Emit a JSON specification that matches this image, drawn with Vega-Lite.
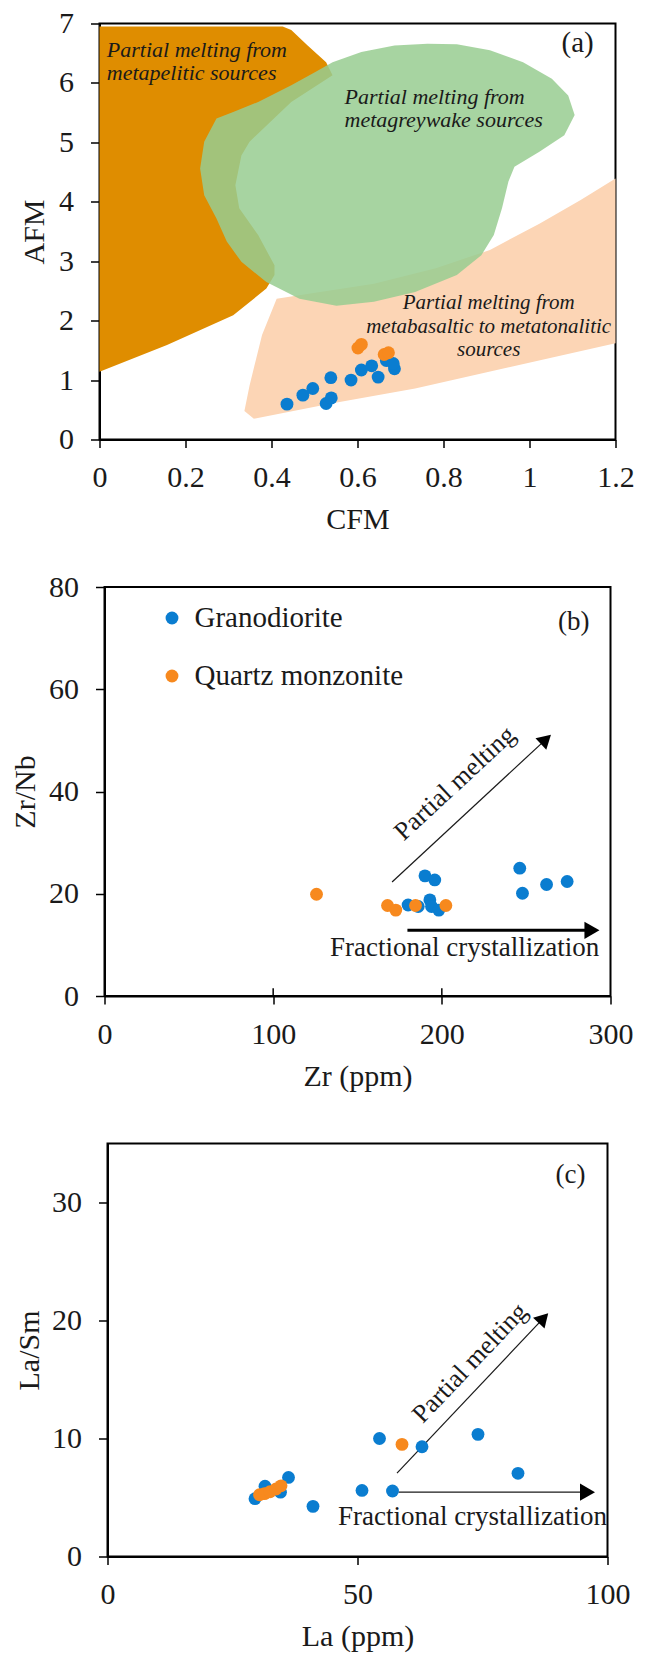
{
  "$schema": "https://vega.github.io/schema/vega-lite/v6.json",
  "background": "white",
  "padding": {"left": 8.5, "top": 7.5, "right": 0, "bottom": 0},
  "config": {
    "font": "Liberation Serif",
    "view": {"stroke": "#000000", "strokeWidth": 2},
    "axis": {
      "grid": false,
      "domainColor": "#000000",
      "domainWidth": 2,
      "tickColor": "#000000",
      "tickWidth": 1.5,
      "labelFont": "Liberation Serif",
      "labelFontSize": 30,
      "labelColor": "#1a1a1a",
      "titleFont": "Liberation Serif",
      "titleFontSize": 30,
      "titleFontWeight": "normal",
      "titleColor": "#1a1a1a"
    },
    "axisX": {"tickSize": 8, "labelPadding": 15, "labelFlush": false, "labelOverlap": false, "titleBaseline": "alphabetic"},
    "axisY": {"tickSize": 9, "labelPadding": 17, "labelOverlap": false, "titleAngle": 270, "titleBaseline": "alphabetic"}
  },
  "datasets": {
    "polys": [
      {"poly": "pelitic", "i": 0, "x": 0, "y": 6.95},
      {"poly": "pelitic", "i": 1, "x": 0.426, "y": 6.95},
      {"poly": "pelitic", "i": 2, "x": 0.446, "y": 6.89},
      {"poly": "pelitic", "i": 3, "x": 0.484, "y": 6.63},
      {"poly": "pelitic", "i": 4, "x": 0.527, "y": 6.35},
      {"poly": "pelitic", "i": 5, "x": 0.542, "y": 6.13},
      {"poly": "pelitic", "i": 6, "x": 0.446, "y": 5.68},
      {"poly": "pelitic", "i": 7, "x": 0.349, "y": 5.01},
      {"poly": "pelitic", "i": 8, "x": 0.33, "y": 4.78},
      {"poly": "pelitic", "i": 9, "x": 0.316, "y": 4.28},
      {"poly": "pelitic", "i": 10, "x": 0.325, "y": 3.89},
      {"poly": "pelitic", "i": 11, "x": 0.369, "y": 3.44},
      {"poly": "pelitic", "i": 12, "x": 0.407, "y": 2.93},
      {"poly": "pelitic", "i": 13, "x": 0.407, "y": 2.77},
      {"poly": "pelitic", "i": 14, "x": 0.388, "y": 2.54},
      {"poly": "pelitic", "i": 15, "x": 0.311, "y": 2.09},
      {"poly": "pelitic", "i": 16, "x": 0.157, "y": 1.59},
      {"poly": "pelitic", "i": 17, "x": 0, "y": 1.14},
      {"poly": "basaltic", "i": 0, "x": 0.412, "y": 2.37},
      {"poly": "basaltic", "i": 1, "x": 0.494, "y": 2.46},
      {"poly": "basaltic", "i": 2, "x": 0.638, "y": 2.62},
      {"poly": "basaltic", "i": 3, "x": 0.782, "y": 2.88},
      {"poly": "basaltic", "i": 4, "x": 0.908, "y": 3.19},
      {"poly": "basaltic", "i": 5, "x": 1.023, "y": 3.63},
      {"poly": "basaltic", "i": 6, "x": 1.119, "y": 4.03},
      {"poly": "basaltic", "i": 7, "x": 1.2, "y": 4.39},
      {"poly": "basaltic", "i": 8, "x": 1.2, "y": 1.62},
      {"poly": "basaltic", "i": 9, "x": 0.734, "y": 0.86},
      {"poly": "basaltic", "i": 10, "x": 0.542, "y": 0.61},
      {"poly": "basaltic", "i": 11, "x": 0.359, "y": 0.35},
      {"poly": "basaltic", "i": 12, "x": 0.337, "y": 0.48},
      {"poly": "basaltic", "i": 13, "x": 0.349, "y": 0.91},
      {"poly": "basaltic", "i": 14, "x": 0.378, "y": 1.76},
      {"poly": "greywacke", "i": 0, "x": 0.272, "y": 5.4},
      {"poly": "greywacke", "i": 1, "x": 0.2435, "y": 5.01},
      {"poly": "greywacke", "i": 2, "x": 0.234, "y": 4.56},
      {"poly": "greywacke", "i": 3, "x": 0.2435, "y": 4.11},
      {"poly": "greywacke", "i": 4, "x": 0.272, "y": 3.72},
      {"poly": "greywacke", "i": 5, "x": 0.296, "y": 3.33},
      {"poly": "greywacke", "i": 6, "x": 0.33, "y": 2.99},
      {"poly": "greywacke", "i": 7, "x": 0.388, "y": 2.65},
      {"poly": "greywacke", "i": 8, "x": 0.465, "y": 2.37},
      {"poly": "greywacke", "i": 9, "x": 0.551, "y": 2.25},
      {"poly": "greywacke", "i": 10, "x": 0.638, "y": 2.32},
      {"poly": "greywacke", "i": 11, "x": 0.734, "y": 2.48},
      {"poly": "greywacke", "i": 12, "x": 0.831, "y": 2.77},
      {"poly": "greywacke", "i": 13, "x": 0.888, "y": 3.1},
      {"poly": "greywacke", "i": 14, "x": 0.917, "y": 3.44},
      {"poly": "greywacke", "i": 15, "x": 0.936, "y": 3.89},
      {"poly": "greywacke", "i": 16, "x": 0.951, "y": 4.34},
      {"poly": "greywacke", "i": 17, "x": 0.965, "y": 4.59},
      {"poly": "greywacke", "i": 18, "x": 1.023, "y": 4.84},
      {"poly": "greywacke", "i": 19, "x": 1.081, "y": 5.12},
      {"poly": "greywacke", "i": 20, "x": 1.105, "y": 5.46},
      {"poly": "greywacke", "i": 21, "x": 1.09, "y": 5.79},
      {"poly": "greywacke", "i": 22, "x": 1.052, "y": 6.07},
      {"poly": "greywacke", "i": 23, "x": 0.985, "y": 6.35},
      {"poly": "greywacke", "i": 24, "x": 0.908, "y": 6.55},
      {"poly": "greywacke", "i": 25, "x": 0.831, "y": 6.65},
      {"poly": "greywacke", "i": 26, "x": 0.763, "y": 6.66},
      {"poly": "greywacke", "i": 27, "x": 0.686, "y": 6.63},
      {"poly": "greywacke", "i": 28, "x": 0.609, "y": 6.52},
      {"poly": "greywacke", "i": 29, "x": 0.542, "y": 6.35},
      {"poly": "greywacke", "i": 30, "x": 0.503, "y": 6.19},
      {"poly": "greywacke", "i": 31, "x": 0.446, "y": 5.96},
      {"poly": "greywacke", "i": 32, "x": 0.369, "y": 5.68},
      {"poly": "greywacke", "i": 33, "x": 0.311, "y": 5.51}
    ],
    "pts": [
      {"panel": "a", "type": "Granodiorite", "x": 0.436, "y": 0.595},
      {"panel": "a", "type": "Granodiorite", "x": 0.473, "y": 0.746},
      {"panel": "a", "type": "Granodiorite", "x": 0.496, "y": 0.858},
      {"panel": "a", "type": "Granodiorite", "x": 0.538, "y": 1.04},
      {"panel": "a", "type": "Granodiorite", "x": 0.527, "y": 0.606},
      {"panel": "a", "type": "Granodiorite", "x": 0.539, "y": 0.7},
      {"panel": "a", "type": "Granodiorite", "x": 0.585, "y": 1.0},
      {"panel": "a", "type": "Granodiorite", "x": 0.609, "y": 1.17},
      {"panel": "a", "type": "Granodiorite", "x": 0.633, "y": 1.24},
      {"panel": "a", "type": "Granodiorite", "x": 0.648, "y": 1.05},
      {"panel": "a", "type": "Granodiorite", "x": 0.667, "y": 1.33},
      {"panel": "a", "type": "Granodiorite", "x": 0.686, "y": 1.19},
      {"panel": "a", "type": "Granodiorite", "x": 0.683, "y": 1.28},
      {"panel": "a", "type": "Quartz monzonite", "x": 0.601, "y": 1.54},
      {"panel": "a", "type": "Quartz monzonite", "x": 0.609, "y": 1.6},
      {"panel": "a", "type": "Quartz monzonite", "x": 0.662, "y": 1.43},
      {"panel": "a", "type": "Quartz monzonite", "x": 0.672, "y": 1.46},
      {"panel": "b", "type": "Granodiorite", "x": 190, "y": 23.5},
      {"panel": "b", "type": "Granodiorite", "x": 195.8, "y": 22.7},
      {"panel": "b", "type": "Granodiorite", "x": 246.2, "y": 25},
      {"panel": "b", "type": "Granodiorite", "x": 247.8, "y": 20.1},
      {"panel": "b", "type": "Granodiorite", "x": 262.1, "y": 21.8},
      {"panel": "b", "type": "Granodiorite", "x": 274.3, "y": 22.4},
      {"panel": "b", "type": "Granodiorite", "x": 180, "y": 17.8},
      {"panel": "b", "type": "Granodiorite", "x": 186, "y": 17.5},
      {"panel": "b", "type": "Granodiorite", "x": 192.9, "y": 18.8},
      {"panel": "b", "type": "Granodiorite", "x": 193.9, "y": 17.5},
      {"panel": "b", "type": "Granodiorite", "x": 198.2, "y": 16.8},
      {"panel": "b", "type": "Quartz monzonite", "x": 125.7, "y": 19.9},
      {"panel": "b", "type": "Quartz monzonite", "x": 167.8, "y": 17.7},
      {"panel": "b", "type": "Quartz monzonite", "x": 172.7, "y": 16.8},
      {"panel": "b", "type": "Quartz monzonite", "x": 184.4, "y": 17.7},
      {"panel": "b", "type": "Quartz monzonite", "x": 202.4, "y": 17.7},
      {"panel": "c", "type": "Granodiorite", "x": 29.5, "y": 4.9},
      {"panel": "c", "type": "Granodiorite", "x": 31.5, "y": 5.95},
      {"panel": "c", "type": "Granodiorite", "x": 34.6, "y": 5.45},
      {"panel": "c", "type": "Granodiorite", "x": 36.2, "y": 6.7},
      {"panel": "c", "type": "Granodiorite", "x": 41.1, "y": 4.25},
      {"panel": "c", "type": "Granodiorite", "x": 50.9, "y": 5.6},
      {"panel": "c", "type": "Granodiorite", "x": 57.0, "y": 5.55},
      {"panel": "c", "type": "Granodiorite", "x": 54.4, "y": 10.0},
      {"panel": "c", "type": "Granodiorite", "x": 62.9, "y": 9.3},
      {"panel": "c", "type": "Granodiorite", "x": 74.1, "y": 10.35},
      {"panel": "c", "type": "Granodiorite", "x": 82.1, "y": 7.05},
      {"panel": "c", "type": "Quartz monzonite", "x": 30.4, "y": 5.23},
      {"panel": "c", "type": "Quartz monzonite", "x": 31.4, "y": 5.33},
      {"panel": "c", "type": "Quartz monzonite", "x": 32.5, "y": 5.49},
      {"panel": "c", "type": "Quartz monzonite", "x": 33.7, "y": 5.72},
      {"panel": "c", "type": "Quartz monzonite", "x": 34.7, "y": 5.99},
      {"panel": "c", "type": "Quartz monzonite", "x": 58.9, "y": 9.5}
    ]
  },
  "bounds": "flush",
  "center": true,
  "spacing": 147.5,
  "resolve": {"scale": {"color": "independent"}, "legend": {"color": "independent"}},
  "vconcat": [
    {
      "width": 516,
      "height": 416,
      "encoding": {
        "x": {"field": "x", "type": "quantitative", "scale": {"domain": [0, 1.2], "nice": false, "zero": false},
              "axis": {"values": [0, 0.2, 0.4, 0.6, 0.8, 1, 1.2], "format": "~f", "title": "CFM", "titleY": 89}},
        "y": {"field": "y", "type": "quantitative", "scale": {"domain": [0, 7], "nice": false},
              "axis": {"values": [0, 1, 2, 3, 4, 5, 6, 7], "title": "AFM", "titleX": -56, "titleY": 208}}
      },
      "layer": [
        {"data": {"name": "polys"}, "transform": [{"filter": "datum.poly === 'pelitic'"}],
         "mark": {"type": "line", "fill": "#df8d00", "strokeOpacity": 0},
         "encoding": {"order": {"field": "i", "type": "quantitative"}}},
        {"data": {"name": "polys"}, "transform": [{"filter": "datum.poly === 'basaltic'"}],
         "mark": {"type": "line", "fill": "#fcd5b5", "strokeOpacity": 0},
         "encoding": {"order": {"field": "i", "type": "quantitative"}}},
        {"data": {"name": "polys"}, "transform": [{"filter": "datum.poly === 'greywacke'"}],
         "mark": {"type": "line", "fill": "#98cd90", "fillOpacity": 0.85, "strokeOpacity": 0},
         "encoding": {"order": {"field": "i", "type": "quantitative"}}},
        {"data": {"name": "pts"}, "transform": [{"filter": "datum.panel === 'a'"}],
         "mark": {"type": "circle", "size": 165, "opacity": 1},
         "encoding": {"color": {"field": "type", "type": "nominal",
           "scale": {"domain": ["Granodiorite", "Quartz monzonite"], "range": ["#0a7dd0", "#f7891e"]}, "legend": null}}},
        {"data": {"values": [
           {"x": 0.017, "y": 6.56, "text": "Partial melting from"},
           {"x": 0.017, "y": 6.16, "text": "metapelitic sources"},
           {"x": 0.57, "y": 5.77, "text": "Partial melting from"},
           {"x": 0.57, "y": 5.37, "text": "metagreywake sources"}]},
         "mark": {"type": "text", "font": "Liberation Serif", "fontSize": 22, "fontStyle": "italic", "align": "left", "baseline": "middle", "color": "#1a1a1a"},
         "encoding": {"text": {"field": "text"}}},
        {"data": {"values": [
           {"x": 0.905, "y": 2.29, "text": "Partial melting from"},
           {"x": 0.905, "y": 1.9, "text": "metabasaltic to metatonalitic"},
           {"x": 0.905, "y": 1.5, "text": "sources"}]},
         "mark": {"type": "text", "font": "Liberation Serif", "fontSize": 21, "fontStyle": "italic", "align": "center", "baseline": "middle", "color": "#1a1a1a"},
         "encoding": {"text": {"field": "text"}}},
        {"data": {"values": [{"x": 1.112, "y": 6.68, "text": "(a)"}]},
         "mark": {"type": "text", "font": "Liberation Serif", "fontSize": 29, "align": "center", "baseline": "middle", "color": "#1a1a1a"},
         "encoding": {"text": {"field": "text"}}}
      ]
    },
    {
      "width": 506,
      "height": 409,
      "encoding": {
        "x": {"field": "x", "type": "quantitative", "scale": {"domain": [0, 300], "nice": false},
              "axis": {"values": [0, 100, 200, 300], "title": "Zr (ppm)", "titleY": 89}},
        "y": {"field": "y", "type": "quantitative", "scale": {"domain": [0, 80], "nice": false},
              "axis": {"values": [0, 20, 40, 60, 80], "title": "Zr/Nb", "titleX": -70.5, "titleY": 204.5}}
      },
      "layer": [
        {"data": {"values": [{"x": 100, "y": 0, "y2": 1.5}, {"x": 200, "y": 0, "y2": 1.5}]},
         "mark": {"type": "rule", "color": "#000000", "strokeWidth": 1.5},
         "encoding": {"y2": {"field": "y2"}}},
        {"data": {"values": [{"x": 179.6, "y": 12.85, "x2": 289, "y2": 12.85}]},
         "mark": {"type": "rule", "color": "#000000", "strokeWidth": 3},
         "encoding": {"x2": {"field": "x2"}, "y2": {"field": "y2"}}},
        {"data": {"values": [{"x": 170.5, "y": 22.3, "x2": 261.7, "y2": 50.2}]},
         "mark": {"type": "rule", "color": "#1a1a1a", "strokeWidth": 1.2},
         "encoding": {"x2": {"field": "x2"}, "y2": {"field": "y2"}}},
        {"data": {"values": [{"x": 289, "y": 12.85}]},
         "mark": {"type": "point", "shape": "triangle-right", "size": 300, "filled": true, "color": "#000000", "opacity": 1},
         "encoding": {}},
        {"data": {"values": [{"x": 261.7, "y": 50.2}]},
         "mark": {"type": "point", "shape": "triangle-up", "angle": 47.2, "size": 250, "filled": true, "color": "#000000", "opacity": 1},
         "encoding": {}},
        {"data": {"name": "pts"}, "transform": [{"filter": "datum.panel === 'b'"}],
         "mark": {"type": "circle", "size": 165, "opacity": 1},
         "encoding": {"color": {"field": "type", "type": "nominal",
           "scale": {"domain": ["Granodiorite", "Quartz monzonite"], "range": ["#0a7dd0", "#f7891e"]},
           "legend": {"orient": "none", "legendX": 53, "legendY": 16.5, "title": null, "padding": 0,
             "symbolType": "circle", "symbolSize": 165, "symbolStrokeWidth": 0, "symbolOpacity": 1,
             "labelFont": "Liberation Serif", "labelFontSize": 29, "labelColor": "#1a1a1a",
             "labelOffset": 8, "rowPadding": 28, "labelLimit": 400}}}},
        {"data": {"values": [{"x": 207.7, "y": 41.6, "text": "Partial melting"}]},
         "mark": {"type": "text", "font": "Liberation Serif", "fontSize": 26, "angle": -42.8, "align": "center", "baseline": "middle", "color": "#1a1a1a"},
         "encoding": {"text": {"field": "text"}}},
        {"data": {"values": [{"x": 213.5, "y": 9.35, "text": "Fractional crystallization"}, {"x": 278.2, "y": 73.2, "text": "(b)"}]},
         "mark": {"type": "text", "font": "Liberation Serif", "fontSize": 27, "align": "center", "baseline": "middle", "color": "#1a1a1a"},
         "encoding": {"text": {"field": "text"}}}
      ]
    },
    {
      "width": 500,
      "height": 413,
      "encoding": {
        "x": {"field": "x", "type": "quantitative", "scale": {"domain": [0, 100], "nice": false},
              "axis": {"values": [0, 50, 100], "title": "La (ppm)", "titleY": 89}},
        "y": {"field": "y", "type": "quantitative", "scale": {"domain": [0, 35], "nice": false},
              "axis": {"values": [0, 10, 20, 30], "title": "La/Sm", "titleX": -68.6, "titleY": 206.5}}
      },
      "layer": [
        {"data": {"values": [{"x": 58.2, "y": 5.45, "x2": 96.0, "y2": 5.45}, {"x": 57.9, "y": 7.06, "x2": 87.2, "y2": 20.2}]},
         "mark": {"type": "rule", "color": "#1a1a1a", "strokeWidth": 1.2},
         "encoding": {"x2": {"field": "x2"}, "y2": {"field": "y2"}}},
        {"data": {"values": [{"x": 96.0, "y": 5.45}]},
         "mark": {"type": "point", "shape": "triangle-right", "size": 300, "filled": true, "color": "#000000", "opacity": 1},
         "encoding": {}},
        {"data": {"values": [{"x": 87.2, "y": 20.2}]},
         "mark": {"type": "point", "shape": "triangle-up", "angle": 43.5, "size": 250, "filled": true, "color": "#000000", "opacity": 1},
         "encoding": {}},
        {"data": {"name": "pts"}, "transform": [{"filter": "datum.panel === 'c'"}],
         "mark": {"type": "circle", "size": 165, "opacity": 1},
         "encoding": {"color": {"field": "type", "type": "nominal",
           "scale": {"domain": ["Granodiorite", "Quartz monzonite"], "range": ["#0a7dd0", "#f7891e"]}, "legend": null}}},
        {"data": {"values": [{"x": 72.5, "y": 16.4, "text": "Partial melting"}]},
         "mark": {"type": "text", "font": "Liberation Serif", "fontSize": 26, "angle": -46.5, "align": "center", "baseline": "middle", "color": "#1a1a1a"},
         "encoding": {"text": {"field": "text"}}},
        {"data": {"values": [{"x": 73, "y": 3.36, "text": "Fractional crystallization"}, {"x": 92.6, "y": 32.3, "text": "(c)"}]},
         "mark": {"type": "text", "font": "Liberation Serif", "fontSize": 27, "align": "center", "baseline": "middle", "color": "#1a1a1a"},
         "encoding": {"text": {"field": "text"}}}
      ]
    }
  ]
}
